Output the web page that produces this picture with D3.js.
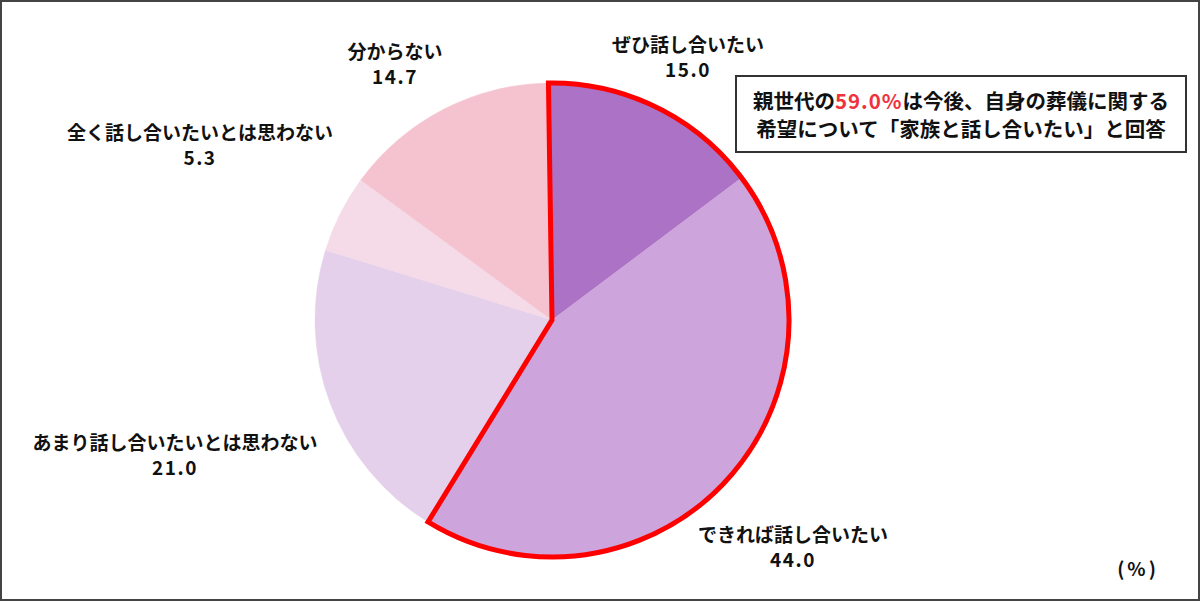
<!DOCTYPE html>
<html><head><meta charset="utf-8">
<script src="https://cdn.jsdelivr.net/npm/d3@7"></script>
<style>
html,body{margin:0;padding:0;background:#fff;}
svg{display:block;font-family:"Noto Sans CJK JP","Noto Sans",sans-serif;font-weight:bold;}
</style></head>
<body>
<script>
const categories = ["ぜひ話し合いたい","できれば話し合いたい","あまり話し合いたいとは思わない","全く話し合いたいとは思わない","分からない"];
const values = [15.0, 44.0, 21.0, 5.3, 14.7];
const valueLabels = ["15.0","44.0","21.0","5.3","14.7"];
const colors = ["#ab72c5","#cda4db","#e4d0ea","#f5dae8","#f5c3cf"];
const labelPos = [[688,52],[793,542],[175,450],[200,140],[395,59]];
const highlightCount = 2;

const W=1200,H=602;
const svg=d3.select("body").append("svg").attr("width",W).attr("height",H);
svg.append("rect").attr("x",1).attr("y",1).attr("width",W-2).attr("height",H-3)
  .attr("fill","#fff").attr("stroke","#444").attr("stroke-width",2);

const cx=552, cy=320, r=237;
const start=-0.015;
const pie=d3.pie().sort(null).value(d=>d).startAngle(start).endAngle(start+2*Math.PI);
const arcs=pie(values);
const arc=d3.arc().innerRadius(0).outerRadius(r);
const g=svg.append("g").attr("transform",`translate(${cx},${cy})`);
g.selectAll("path.slice").data(arcs).enter().append("path").attr("class","slice")
  .attr("d",arc).attr("fill",(d,i)=>colors[i]).attr("stroke",(d,i)=>colors[i]).attr("stroke-width",0.5);

const hiEnd=arcs[highlightCount-1].endAngle;
g.append("path").attr("d",d3.arc().innerRadius(0).outerRadius(r)({startAngle:arcs[0].startAngle,endAngle:hiEnd}))
  .attr("fill","none").attr("stroke","#ff0000").attr("stroke-width",5).attr("stroke-linejoin","miter");

const lab=svg.append("g").attr("fill","#111").attr("text-anchor","middle").attr("font-size",19);
categories.forEach((c,i)=>{
  lab.append("text").attr("x",labelPos[i][0]).attr("y",labelPos[i][1]).text(c);
  lab.append("text").attr("x",labelPos[i][0]).attr("y",labelPos[i][1]+25).attr("letter-spacing",1.5).text(valueLabels[i]);
});
lab.append("text").attr("x",1138).attr("y",576).attr("font-size",19).text("(%)").attr("letter-spacing",3);

svg.append("rect").attr("x",736).attr("y",76).attr("width",450).attr("height",76)
  .attr("fill","#fff").attr("stroke","#333").attr("stroke-width",2);
const t1=svg.append("text").attr("x",961).attr("y",109).attr("text-anchor","middle").attr("font-size",20.5).attr("fill","#111");
t1.append("tspan").text("親世代の");
t1.append("tspan").attr("fill","#f0323c").attr("letter-spacing",1).text("59.0%");
t1.append("tspan").text("は今後、自身の葬儀に関する");
svg.append("text").attr("x",961).attr("y",137).attr("text-anchor","middle").attr("font-size",20.5).attr("fill","#111")
  .text("希望について「家族と話し合いたい」と回答");
</script>
</body></html>
